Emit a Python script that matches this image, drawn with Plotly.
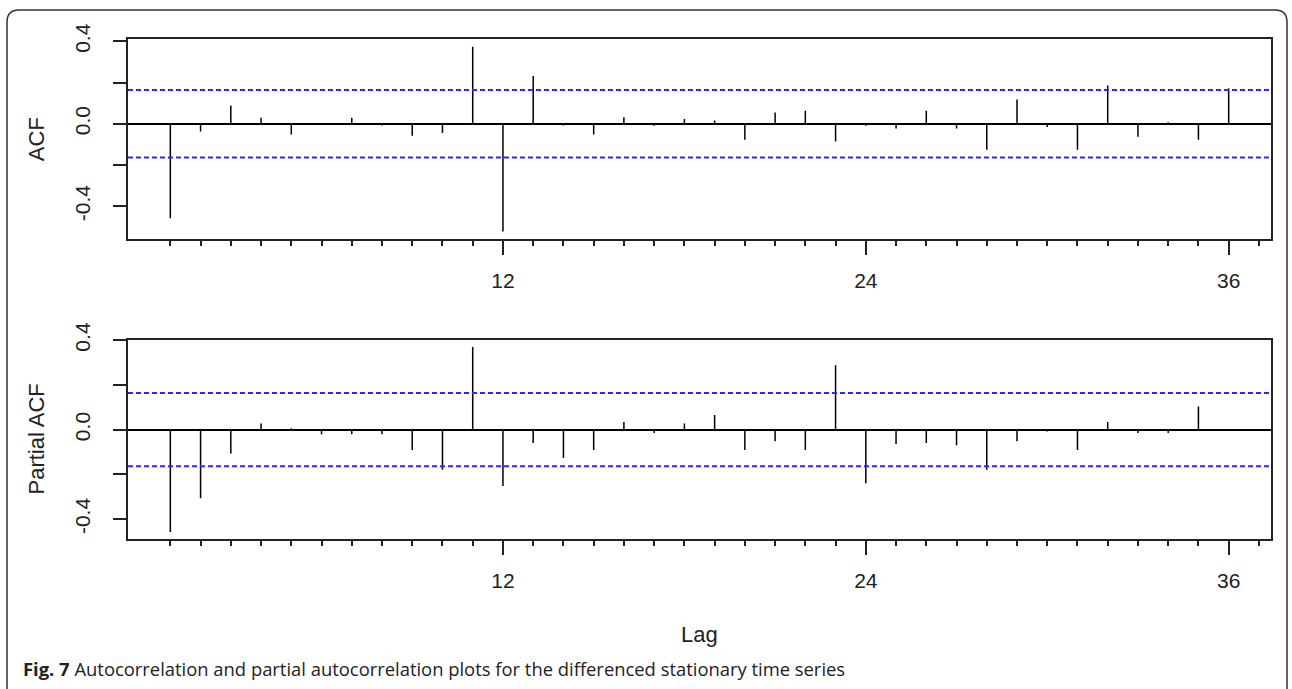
import plotly.graph_objects as go

# ---- data ----
lags = list(range(1, 37))
acf_vals = [-0.458, -0.037, 0.089, 0.029, -0.052, -0.006, 0.029, -0.008, -0.058, -0.045,
            0.374, -0.523, 0.232, -0.008, -0.052, 0.032, -0.010, 0.023, 0.016, -0.078,
            0.055, 0.063, -0.086, -0.010, -0.023, 0.063, -0.023, -0.126, 0.118, -0.016,
            -0.126, 0.186, -0.063, 0.008, -0.078, 0.173]
pacf_vals = [-0.457, -0.307, -0.107, 0.028, 0.006, -0.020, -0.020, -0.020, -0.091, -0.179,
             0.369, -0.252, -0.060, -0.127, -0.091, 0.034, -0.015, 0.028, 0.066, -0.091,
             -0.052, -0.091, 0.288, -0.240, -0.064, -0.060, -0.070, -0.179, -0.052, -0.008,
             -0.091, 0.034, -0.015, -0.015, 0.103, 0.003]
ci = 0.164
major_ticks = [12, 24, 36]
major_labels = ["12", "24", "36"]
minor_ticks = list(range(1, 38))
y_ticks = [-0.4, -0.2, 0.0, 0.2, 0.4]
y_labels = ["-0.4", "", "0.0", "", "0.4"]
y_titles = ["ACF", "Partial ACF"]
x_title = "Lag"
caption_bold = "Fig. 7"
caption_text = "Autocorrelation and partial autocorrelation plots for the differenced stationary time series"

W, H = 1292, 689
TXT = "#222222"
FONT = "Liberation Sans, Arial, Helvetica, sans-serif"


def r_range(vals, extra):
    lo = min(min(vals), -extra)
    hi = max(max(vals), extra)
    e = 0.04 * (hi - lo)
    return [lo - e, hi + e]


def stems(xs, ys):
    sx, sy = [], []
    for x, y in zip(xs, ys):
        sx += [x, x, None]
        sy += [0, y, None]
    return sx, sy


xr = [min(lags) - 0.04 * (max(lags) - min(lags)), max(lags) + 0.04 * (max(lags) - min(lags))]

fig = go.Figure()
for i, vals in enumerate([acf_vals, pacf_vals]):
    sx, sy = stems(lags, vals)
    suffix = "" if i == 0 else "2"
    fig.add_trace(go.Scatter(x=sx, y=sy, mode="lines", line=dict(color="black", width=1.5),
                             xaxis="x" + suffix, yaxis="y" + suffix, showlegend=False,
                             hoverinfo="skip"))

xdom = [128 / W, 1271 / W]
ydoms = [[1 - 239 / H, 1 - 39.3 / H], [1 - 539.3 / H, 1 - 339.7 / H]]

axis_common = dict(showgrid=False, showline=True, linecolor="#222", linewidth=1.5, mirror=True,
                   ticks="outside", tickcolor="#222", tickwidth=1.5, automargin=False)

layout = dict(width=W, height=H, margin=dict(l=0, r=0, t=0, b=0, autoexpand=False),
              paper_bgcolor="white", plot_bgcolor="white", showlegend=False)

for i, vals in enumerate([acf_vals, pacf_vals]):
    suffix = "" if i == 0 else "2"
    layout["xaxis" + suffix] = dict(
        axis_common, domain=xdom, range=xr, anchor="y" + suffix,
        tickfont=dict(family=FONT, size=21, color=TXT),
        tickmode="array", tickvals=major_ticks, ticktext=major_labels, ticklen=14,
        ticklabelstandoff=8, zeroline=False,
        minor=dict(tickmode="array", tickvals=minor_ticks, ticks="outside", ticklen=5,
                   tickwidth=1.5, tickcolor="#222", showgrid=False))
    layout["yaxis" + suffix] = dict(
        axis_common, domain=ydoms[i], range=r_range(vals, ci), anchor="x" + suffix,
        tickfont=dict(family=FONT, size=21, color=TXT),
        tickmode="array", tickvals=y_ticks, ticktext=y_labels, ticklen=13, tickangle=-90,
        ticklabelstandoff=15,
        zeroline=True, zerolinecolor="black", zerolinewidth=1.5)

fig.update_layout(**layout)

shapes = []
for i in range(2):
    suffix = "" if i == 0 else "2"
    for s in (1, -1):
        shapes.append(dict(type="line", xref="x" + suffix + " domain", yref="y" + suffix,
                           x0=0, x1=1, y0=s * ci, y1=s * ci,
                           line=dict(color="#2a2aff", width=2, dash="5px,3px")))


def px(x):
    return x / W


def py(y):
    return 1 - y / H


r = 12
path = (f"M {px(7)},{py(700)} L {px(7)},{py(10 + r)} Q {px(7)},{py(10)} {px(7 + r)},{py(10)} "
        f"L {px(1287 - r)},{py(10)} Q {px(1287)},{py(10)} {px(1287)},{py(10 + r)} "
        f"L {px(1287)},{py(700)}")
shapes.append(dict(type="path", xref="paper", yref="paper", path=path,
                   line=dict(color="#333", width=1.5)))
fig.update_layout(shapes=shapes)

ann = []
for i, t in enumerate(y_titles):
    yc = (ydoms[i][0] + ydoms[i][1]) / 2
    ann.append(dict(text=t, xref="paper", yref="paper", x=36 / W, y=yc, textangle=-90,
                    showarrow=False, xanchor="center", yanchor="middle",
                    font=dict(family=FONT, size=22, color=TXT)))
ann.append(dict(text=x_title, xref="paper", yref="paper", x=(xdom[0] + xdom[1]) / 2, y=1 - 634 / H,
                showarrow=False, xanchor="center", yanchor="middle",
                font=dict(family=FONT, size=22, color=TXT)))
ann.append(dict(text=f"<b>{caption_bold}</b> {caption_text}", xref="paper", yref="paper",
                x=21 / W, y=1 - 668 / H, showarrow=False, xanchor="left", yanchor="middle",
                font=dict(family="Open Sans, sans-serif", size=18.4, color=TXT)))
fig.update_layout(annotations=ann)

fig.write_html("out.html")
